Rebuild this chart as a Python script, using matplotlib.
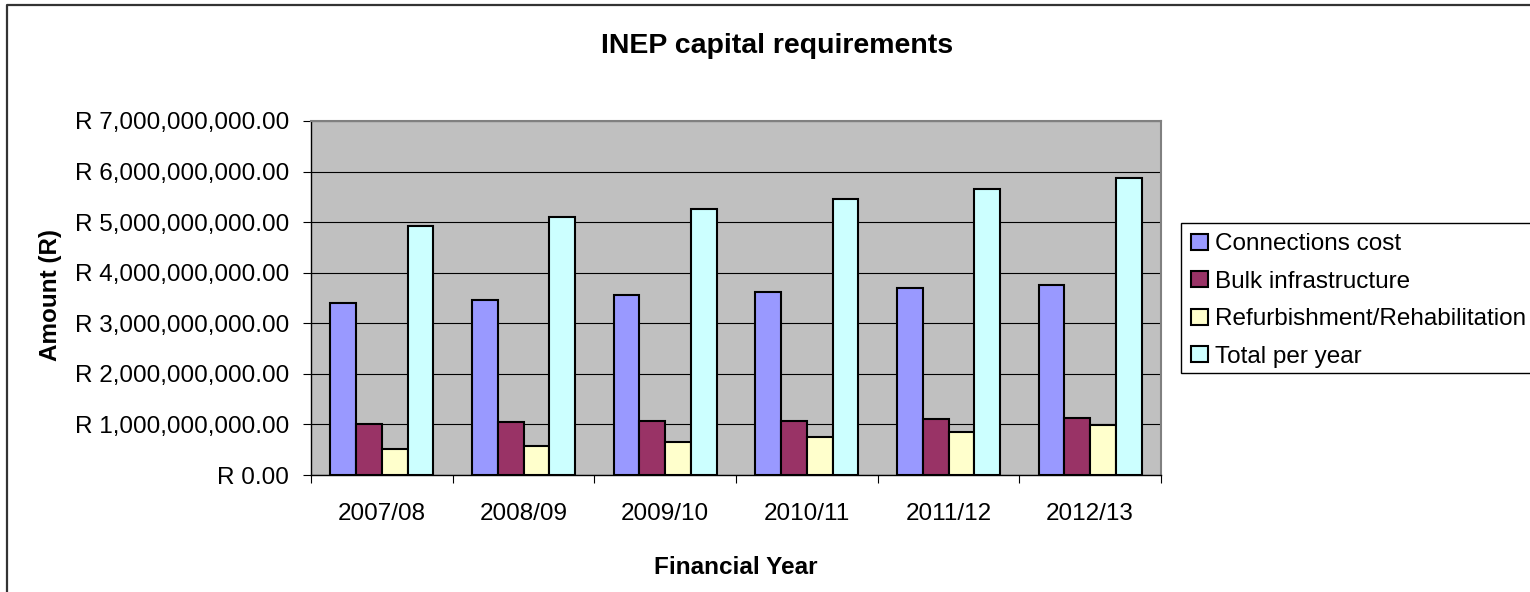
import matplotlib.pyplot as plt
import matplotlib.ticker as mticker
from matplotlib.patches import Patch, Rectangle
from matplotlib.lines import Line2D
import numpy as np

plt.rcParams['font.family'] = ['Liberation Sans', 'DejaVu Sans']

years = ["2007/08", "2008/09", "2009/10", "2010/11", "2011/12", "2012/13"]
connections = [3.40e9, 3.47e9, 3.55e9, 3.62e9, 3.69e9, 3.76e9]
bulk = [1.01e9, 1.04e9, 1.06e9, 1.07e9, 1.10e9, 1.125e9]
refurb = [0.51e9, 0.57e9, 0.66e9, 0.76e9, 0.86e9, 0.99e9]
total = [4.93e9, 5.10e9, 5.26e9, 5.46e9, 5.66e9, 5.875e9]

series = [connections, bulk, refurb, total]
names = ["Connections cost", "Bulk infrastructure",
         "Refurbishment/Rehabilitation", "Total per year"]
colors = ["#9999FF", "#993366", "#FFFFCC", "#CCFFFF"]

W, H = 1530, 592
fs = 17.5
fig = plt.figure(figsize=(W / 100, H / 100), dpi=100)
ax = fig.add_axes([311 / W, 1 - 475 / H, 850 / W, 354 / H])
ax.set_facecolor("#C0C0C0")

x = np.arange(len(years))
bw = 1 / 5.5
for i, vals in enumerate(series):
    ax.bar(x + (i - 1.5) * bw, vals, bw, color=colors[i], edgecolor="black",
           linewidth=1.5, zorder=3)

ax.set_xlim(-0.5, len(years) - 0.5)
ax.set_ylim(0, 7e9)
ax.set_yticks(np.arange(0, 7.1e9, 1e9))
ax.yaxis.set_major_formatter(mticker.FuncFormatter(lambda v, p: "R {:,.2f}".format(v)))
ax.grid(axis="y", color="black", linewidth=0.8, zorder=1)
ax.set_axisbelow(True)

ax.set_xticks(np.arange(-0.5, len(years), 1.0))
ax.set_xticklabels([])
ax.set_xticks(x, minor=True)
ax.set_xticklabels(years, minor=True)
ax.tick_params(axis="x", which="major", length=6, width=0.8, color="black")
ax.tick_params(axis="x", which="minor", length=0, pad=20, labelsize=fs)
ax.tick_params(axis="y", length=6, width=0.8, pad=10, labelsize=fs)

for s in ["left", "bottom"]:
    ax.spines[s].set_color("black")
    ax.spines[s].set_linewidth(1)
for s in ["top", "right"]:
    ax.spines[s].set_color("#808080")
    ax.spines[s].set_linewidth(1.5)

fig.text(777 / W, 1 - 53 / H, "INEP capital requirements", ha="center",
         va="baseline", fontsize=20.5, fontweight="bold")
fig.text(736 / W, 1 - 568 / H, "Financial Year", ha="center", va="center",
         fontsize=fs, fontweight="bold")
fig.text(50 / W, 1 - 295 / H, "Amount (R)", ha="center", va="center",
         rotation=90, fontsize=fs, fontweight="bold")

# legend frame runs off the right edge like the original
fig.patches.append(Rectangle((1181 / W, 1 - 373 / H), 0.3, 150 / H,
                             transform=fig.transFigure, facecolor="white",
                             edgecolor="black", linewidth=1, zorder=0))
handles = [Patch(facecolor=c, edgecolor="black", linewidth=1.5) for c in colors]
fig.legend(handles, names, loc="upper left",
           bbox_to_anchor=(1181 / W, 1 - 223 / H), borderaxespad=0,
           frameon=False, fontsize=fs, handlelength=0.7, handleheight=0.62,
           handletextpad=0.29, borderpad=0.42, labelspacing=0.64)

# outer chart border (left and top only visible)
fig.add_artist(Line2D([7 / W, 7 / W, 1], [0, 1 - 5 / H, 1 - 5 / H],
                      transform=fig.transFigure, color="#333333", linewidth=1.6))

fig.savefig("out.png", dpi=100)
